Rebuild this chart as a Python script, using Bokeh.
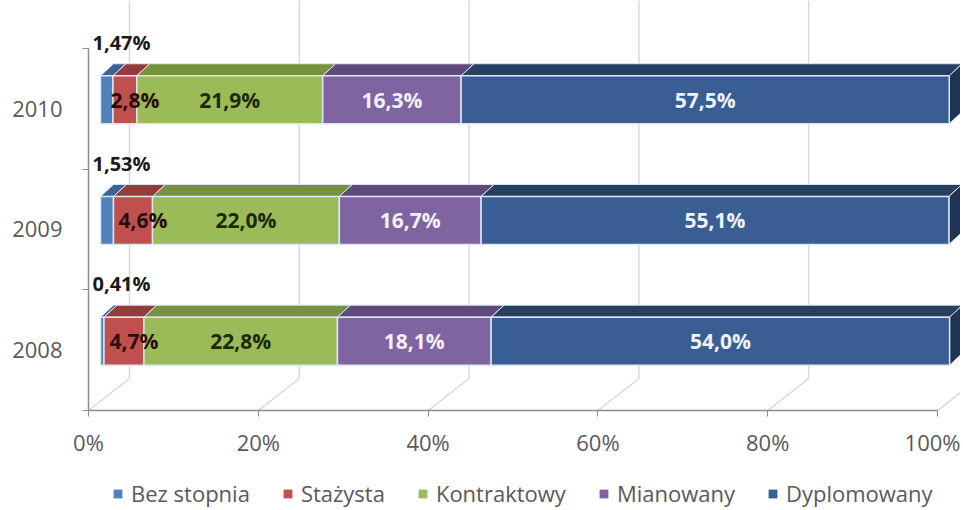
from bokeh.plotting import figure
from bokeh.models import FixedTicker, Legend, LegendItem
from bokeh.layouts import column
from bokeh.embed import file_html
from bokeh.resources import INLINE
from bokeh.core.properties import value

# ---------------- data ----------------
years = ["2008", "2009", "2010"]
series = ["Bez stopnia", "Stażysta", "Kontraktowy", "Mianowany", "Dyplomowany"]
bez_stopnia = [0.41, 1.53, 1.47]
stazysta = [4.7, 4.6, 2.8]
kontraktowy = [22.8, 22.0, 21.9]
mianowany = [18.1, 16.7, 16.3]
dyplomowany = [54.0, 55.1, 57.5]
x_ticks = [0, 20, 40, 60, 80, 100]
x_tick_labels = ["0%", "20%", "40%", "60%", "80%", "100%"]

values = [bez_stopnia, stazysta, kontraktowy, mianowany, dyplomowany]

# ---------------- style ----------------
front_colors = ["#4f81bd", "#c0504d", "#9bbb59", "#8064a2", "#395e94"]
top_colors = ["#3a6396", "#933c3a", "#76923c", "#5f4a7e", "#263f63"]
side_color = "#1f3352"
label_colors = ["#1a1a1a", "#2a0d0d", "#1b2a0c", "#f2f0f8", "#eef2f8"]
label_shift = [0, 10, 0, 0, 0]   # px nudges of data labels
edge = "#dde7f3"
FONT = "Open Sans"

W, H = 960, 464
LEFT = 88
FRAME_BOTTOM = 410
BOTTOM = H - FRAME_BOTTOM
PX_X = 8.49     # pixels per percent
PX_Y = 120.7    # pixels per category band
X1 = (W - LEFT) / PX_X
Y1 = FRAME_BOTTOM / PX_Y

fx, fy = 12 / PX_X, 9 / PX_Y      # bar front offset from front plane
dx, dy = 13 / PX_X, 12 / PX_Y     # bar depth
gx, gy = 41 / PX_X, 32 / PX_Y     # wall depth
bh = 48 / PX_Y                    # bar height

p = figure(width=W, height=H, x_range=(0, X1), y_range=(0, Y1),
           output_backend="svg", toolbar_location=None,
           min_border_left=LEFT, min_border_right=0, min_border_top=0,
           min_border_bottom=BOTTOM)
p.outline_line_color = None
p.xgrid.visible = False
p.ygrid.visible = False

# back wall gridlines and floor diagonals
p.segment(x0=[t + gx for t in x_ticks], y0=[gy] * len(x_ticks),
          x1=[t + gx for t in x_ticks], y1=[Y1] * len(x_ticks),
          line_color="#d9d9d9", line_width=1.5)
p.segment(x0=x_ticks, y0=[0] * len(x_ticks),
          x1=[t + gx for t in x_ticks], y1=[gy] * len(x_ticks),
          line_color="#d9d9d9", line_width=1.5)

# legend strip figure (separate small figure below the chart)
LH = 44
pl = figure(width=W, height=LH, x_range=(0, 1), y_range=(-20, -19),
            output_backend="svg", toolbar_location=None,
            x_axis_location=None, y_axis_location=None,
            min_border_left=0, min_border_right=0, min_border_top=0, min_border_bottom=0)
pl.outline_line_color = None
pl.xgrid.visible = False
pl.ygrid.visible = False
items = []

# bars
cum = [0.0] * len(years)
lab_x, lab_y, lab_t, lab_c, lab_o = [], [], [], [], []
bez_x, bez_y, bez_t = [], [], []
for i, (name, vals) in enumerate(zip(series, values)):
    L = [cum[j] + fx for j in range(len(years))]
    R = [cum[j] + vals[j] + fx for j in range(len(years))]
    B = [j + 0.5 + fy - bh / 2 for j in range(len(years))]
    T = [j + 0.5 + fy + bh / 2 for j in range(len(years))]
    p.patches(xs=[[L[j], R[j], R[j] + dx, L[j] + dx] for j in range(len(years))],
              ys=[[T[j], T[j], T[j] + dy, T[j] + dy] for j in range(len(years))],
              fill_color=top_colors[i], line_color=edge, line_width=1)
    if i == len(series) - 1:
        p.patches(xs=[[R[j], R[j] + dx, R[j] + dx, R[j]] for j in range(len(years))],
                  ys=[[B[j], B[j] + dy, T[j] + dy, T[j]] for j in range(len(years))],
                  fill_color=side_color, line_color=edge, line_width=1)
    p.quad(left=L, right=R, bottom=B, top=T,
           fill_color=front_colors[i], line_color=edge, line_width=1.5)
    # same bars in the legend strip (outside its visible range) to drive the legend
    r = pl.quad(left=L, right=R, bottom=B, top=T,
                fill_color=front_colors[i], line_color=None)
    items.append(LegendItem(label=name, renderers=[r]))
    for j in range(len(years)):
        if i == 0:
            bez_x.append(cum[j])
            bez_y.append(j + 1 + 6 / PX_Y)
            bez_t.append(f"{vals[j]:.2f}%".replace(".", ","))
        else:
            lab_x.append(cum[j] + vals[j] / 2 + fx)
            lab_y.append(j + 0.5 + fy)
            lab_t.append(f"{vals[j]:.1f}%".replace(".", ","))
            lab_c.append(label_colors[i])
            lab_o.append(label_shift[i])
    cum = [cum[j] + vals[j] for j in range(len(years))]

p.text(x=lab_x, y=lab_y, text=lab_t, text_color=lab_c, x_offset=lab_o,
       text_font=value(FONT), text_font_style="bold", text_font_size="21px",
       text_align="center", text_baseline="middle")
p.text(x=bez_x, y=bez_y, text=bez_t, text_color="#1a1a1a", x_offset=4,
       text_font=value(FONT), text_font_style="bold", text_font_size="20px",
       text_align="left", text_baseline="middle")

# axes
xa = p.xaxis[0]
xa.ticker = FixedTicker(ticks=x_ticks)
xa.major_label_overrides = {t: l for t, l in zip(x_ticks, x_tick_labels)}
xa.bounds = (0, 100)
xa.axis_line_color = "#8c8c8c"
xa.axis_line_width = 1.5
xa.major_tick_line_color = "#8c8c8c"
xa.major_tick_out = 6
xa.major_tick_in = 0
xa.minor_tick_line_color = None
xa.major_label_standoff = 10
xa.major_label_text_font = FONT
xa.major_label_text_font_size = "22px"
xa.major_label_text_color = "#595959"

ya = p.yaxis[0]
ya.ticker = FixedTicker(ticks=[0.5, 1.5, 2.5], minor_ticks=[0, 1, 2, 3])
ya.major_label_overrides = {j + 0.5: y for j, y in enumerate(years)}
ya.bounds = (0, 3)
ya.axis_line_color = "#8c8c8c"
ya.axis_line_width = 1.5
ya.major_tick_line_color = None
ya.minor_tick_line_color = "#8c8c8c"
ya.minor_tick_out = 6
ya.minor_tick_in = 0
ya.major_label_standoff = 20
ya.major_label_text_font = FONT
ya.major_label_text_font_size = "22px"
ya.major_label_text_color = "#595959"

legend = Legend(items=items, location=(24, 0), orientation="horizontal",
                border_line_color=None, background_fill_alpha=0,
                label_text_font=FONT, label_text_font_size="22px",
                label_text_color="#595959",
                glyph_width=11, glyph_height=11, label_standoff=8,
                spacing=32, padding=0, margin=0)
pl.add_layout(legend)

layout = column(p, pl, spacing=0)
open("out.html", "w").write(file_html(layout, INLINE))
